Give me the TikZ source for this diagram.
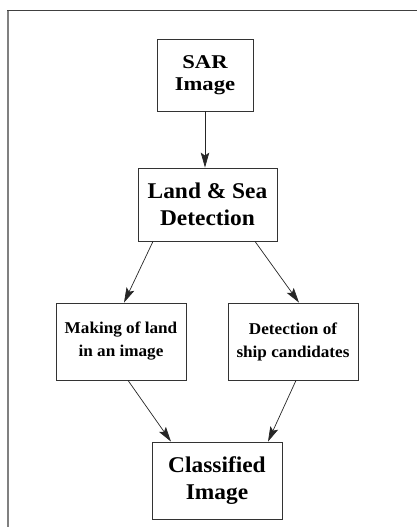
\documentclass[tikz,border=0pt]{standalone}
\usepackage{fontspec}
\setmainfont{Liberation Serif}
\newfontfamily\sarfont[FakeStretch=1.16]{Liberation Serif}
\newfontfamily\bigfont[FakeStretch=1.04]{Liberation Serif}
\usetikzlibrary{arrows.meta}
\begin{document}
\begin{tikzpicture}[x=1pt,y=-1pt,
  box/.style={draw=black!80,line width=0.8pt,rectangle,inner sep=0pt,align=center,text=black},
  sarbox/.style={box,font=\sarfont\bfseries\fontsize{19.5}{22.5}\selectfont},
  bigbox/.style={box,font=\bigfont\bfseries\fontsize{22.5}{27}\selectfont},
  smallbox/.style={box,font=\bigfont\bfseries\fontsize{16.5}{23}\selectfont},
  conn/.style={draw=black!85,line width=0.7pt,-{Stealth[length=15pt,width=8.5pt,inset=3pt]}},
  frametop/.style={draw=black!75,line width=1.3pt},
  frameleft/.style={draw=black!50,line width=1.6pt}]
\useasboundingbox (0,0) rectangle (417,527);
\coordinate (fA) at (8,527);
\coordinate (fB) at (8,10.5);
\coordinate (fC) at (417,10.5);
\draw[frameleft] (fA) -- (8,10);
\draw[frametop] (7.2,10.5) -- (fC);

\node[sarbox,minimum width=96pt,minimum height=72pt] (sar) at (205,75) {SAR\\Image};
\node[bigbox,minimum width=139pt,minimum height=73pt] (land) at (207.5,204.5) {Land \& Sea\\Detection};
\node[smallbox,minimum width=130pt,minimum height=77pt] (mk) at (121,341.5) {Making of land\\in an image};
\node[smallbox,minimum width=130pt,minimum height=77pt] (det) at (293,341.5) {Detection of\\ship candidates};
\node[bigbox,minimum width=130pt,minimum height=77pt] (cl) at (217,480.5) {Classified\\Image};

\draw[conn] (sar.south) -- (sar.south |- land.north);
\draw[conn] ([xshift=-54.5pt]land.south) -- ([xshift=3pt]mk.north);
\draw[conn] ([xshift=47.5pt]land.south) -- ([xshift=6pt]det.north);
\draw[conn] ([xshift=7pt]mk.south) -- ([xshift=-46pt]cl.north);
\draw[conn] ([xshift=3pt]det.south) -- ([xshift=51pt]cl.north);
\end{tikzpicture}
\end{document}
